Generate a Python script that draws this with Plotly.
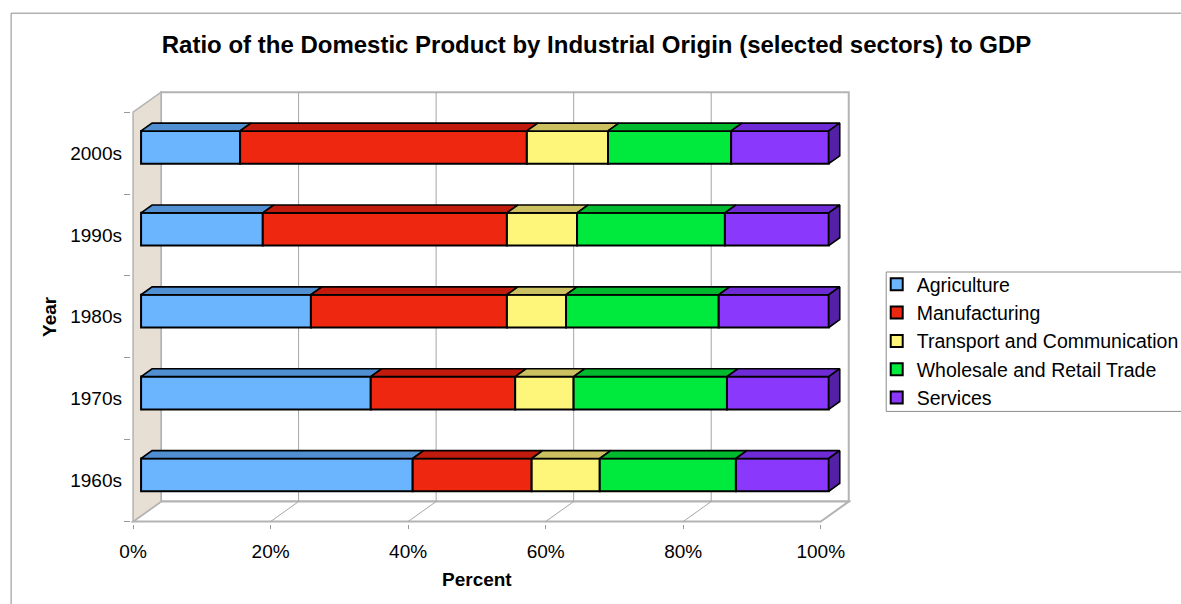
import plotly.graph_objects as go

# ---- data -------------------------------------------------------------
years = ["1960s", "1970s", "1980s", "1990s", "2000s"]
sectors = ["Agriculture", "Manufacturing", "Transport and Communication",
           "Wholesale and Retail Trade", "Services"]

agriculture = [39.5, 33.4, 24.7, 17.7, 14.4]
manufacturing = [17.3, 21.0, 28.5, 35.5, 41.7]
transport = [9.9, 8.5, 8.6, 10.2, 11.8]
wholesale = [19.8, 22.3, 22.2, 21.5, 17.9]
services = [13.5, 14.8, 16.0, 15.1, 14.2]

x_ticks = [0, 20, 40, 60, 80, 100]
x_tick_labels = ["0%", "20%", "40%", "60%", "80%", "100%"]

# ---- styling ----------------------------------------------------------
front_colors = ["#6bb5ff", "#ee2711", "#fdf67b", "#00ea3e", "#8a38fc"]
top_colors = ["#4f8fd2", "#c01b0d", "#cbc160", "#00b92f", "#6f2cd6"]
side_color = "#5420a6"

FONT = "Liberation Sans, Arial, Helvetica, sans-serif"
WALL_LINE = "#b3b3b3"
GRID_LINE = "#a6a6a6"

# pseudo-3D projection: depth 1 moves a point this far right / up
DX = 4.07      # in percent units
DY = 0.244     # in category units
D_FRONT = 0.286  # depth of the bar front face
D_BAR = 0.393    # depth of the bar itself
BAR_H = 0.40

N = len(years)
X_RANGE = [-0.3, 104.4]
Y_RANGE = [-0.03, 5.27]
PX_X = 6.88
PX_Y = 81.94
W, H = 1181, 604
left = 133 - (0 - X_RANGE[0]) * PX_X
plot_w = (X_RANGE[1] - X_RANGE[0]) * PX_X
bottom = 521.7 + (0 - Y_RANGE[0]) * PX_Y
plot_h = (Y_RANGE[1] - Y_RANGE[0]) * PX_Y
top = bottom - plot_h


def px_to_paper_x(px):
    return (px - left) / plot_w


def px_to_paper_y(py):
    return (bottom - py) / plot_h


series = [agriculture, manufacturing, transport, wholesale, services]

fig = go.Figure()

# ---- walls, floor and gridlines ---------------------------------------
shapes = []


def poly(pts, fill, line, width=1.2):
    path = "M " + " L ".join(f"{x},{y}" for x, y in pts) + " Z"
    return dict(type="path", path=path, xref="x", yref="y", layer="below",
                fillcolor=fill, line=dict(color=line, width=width))


# back wall
shapes.append(poly([(DX, DY), (100 + DX, DY), (100 + DX, N + DY), (DX, N + DY)],
                   "white", WALL_LINE, 2))
# floor
shapes.append(poly([(0, 0), (100, 0), (100 + DX, DY), (DX, DY)],
                   "white", WALL_LINE, 2))
# left wall
shapes.append(poly([(0, 0), (0, N), (DX, N + DY), (DX, DY)],
                   "#e7dfd3", WALL_LINE, 1.5))
for v in x_ticks[1:-1]:
    shapes.append(dict(type="line", xref="x", yref="y", layer="below",
                       x0=v + DX, x1=v + DX, y0=DY, y1=N + DY,
                       line=dict(color=GRID_LINE, width=1)))
    shapes.append(dict(type="line", xref="x", yref="y", layer="below",
                       x0=v, x1=v + DX, y0=0, y1=DY,
                       line=dict(color=GRID_LINE, width=1)))

# outer frame of the chart
shapes.append(dict(type="rect", xref="paper", yref="paper", layer="above",
                   x0=px_to_paper_x(11), x1=px_to_paper_x(1200),
                   y0=px_to_paper_y(13), y1=px_to_paper_y(640),
                   line=dict(color="#8c8c8c", width=1), fillcolor="rgba(0,0,0,0)"))

# legend box
shapes.append(dict(type="rect", xref="paper", yref="paper", layer="below",
                   x0=px_to_paper_x(886.5), x1=px_to_paper_x(1200),
                   y0=px_to_paper_y(411.5), y1=px_to_paper_y(272),
                   line=dict(color="#8c8c8c", width=1), fillcolor="white"))

# ---- bars: front faces ------------------------------------------------
x0 = D_FRONT * DX
y0 = D_FRONT * DY
bx = D_BAR * DX
by = D_BAR * DY
centers = [i + 0.5 for i in range(N)]

starts = []
acc = [0.0] * N
for vals in series:
    starts.append(list(acc))
    acc = [a + v for a, v in zip(acc, vals)]

for k, (name, vals) in enumerate(zip(sectors, series)):
    fig.add_trace(go.Bar(
        name=name, orientation="h",
        x=vals, base=[s + x0 for s in starts[k]],
        y=[c + y0 for c in centers], width=BAR_H,
        marker=dict(color=front_colors[k], line=dict(color="black", width=2)),
        hovertemplate="%{fullData.name}: %{x:.1f}%<extra></extra>",
    ))

# ---- bars: top faces and the right-hand side face ---------------------
for k, vals in enumerate(series):
    for i in range(N):
        s = starts[k][i] + x0
        e = s + vals[i]
        yt = centers[i] + y0 + BAR_H / 2
        fig.add_trace(go.Scatter(
            x=[s, e, e + bx, s + bx, s], y=[yt, yt, yt + by, yt + by, yt],
            mode="lines", fill="toself", fillcolor=top_colors[k],
            line=dict(color="black", width=1.6), hoverinfo="skip",
            showlegend=False))
last = len(series) - 1
for i in range(N):
    e = starts[last][i] + services[i] + x0
    yb = centers[i] + y0 - BAR_H / 2
    yt = centers[i] + y0 + BAR_H / 2
    fig.add_trace(go.Scatter(
        x=[e, e + bx, e + bx, e, e], y=[yb, yb + by, yt + by, yt, yb],
        mode="lines", fill="toself", fillcolor=side_color,
        line=dict(color="black", width=1.6), hoverinfo="skip",
        showlegend=False))

fig.update_layout(
    width=W, height=H, autosize=False,
    margin=dict(l=left, r=W - left - plot_w, t=top, b=H - bottom,
                autoexpand=False),
    paper_bgcolor="white", plot_bgcolor="white",
    barmode="overlay",
    font=dict(family=FONT, color="black", size=19),
    title=dict(text="<b>Ratio of the Domestic Product by Industrial Origin "
                    "(selected sectors) to GDP</b>",
               x=596.5 / W, y=1 - 45 / H, xanchor="center", yanchor="middle",
               font=dict(size=24, family=FONT, color="black")),
    xaxis=dict(range=X_RANGE, tickmode="array", tickvals=x_ticks,
               ticktext=x_tick_labels, showgrid=False, zeroline=False,
               showline=False, ticks="outside", ticklen=4, tickcolor="#999999",
               ticklabelstandoff=6, tickfont=dict(size=19), fixedrange=True),
    yaxis=dict(range=Y_RANGE, tickmode="array", tickvals=centers,
               ticktext=years, showgrid=False, zeroline=False, showline=False,
               ticks="", ticklabelstandoff=8, tickfont=dict(size=19),
               minor=dict(tickmode="array", tickvals=list(range(N + 1)),
                          ticks="outside", ticklen=6, tickcolor="#999999",
                          showgrid=False),
               fixedrange=True),
    legend=dict(x=px_to_paper_x(877), y=px_to_paper_y(265), xanchor="left",
                yanchor="top", traceorder="normal",
                bgcolor="rgba(0,0,0,0)", borderwidth=0,
                font=dict(size=19.5, family=FONT, color="black")),
    shapes=shapes,
    annotations=[
        dict(text="<b>Percent</b>", xref="x", yref="paper", x=50,
             y=px_to_paper_y(580), showarrow=False, xanchor="center",
             yanchor="middle", font=dict(size=19)),
        dict(text="<b>Year</b>", xref="paper", yref="y",
             x=px_to_paper_x(50), y=N / 2, textangle=-90, showarrow=False,
             xanchor="center", yanchor="middle", font=dict(size=19)),
    ],
)

fig.write_html("out.html")
